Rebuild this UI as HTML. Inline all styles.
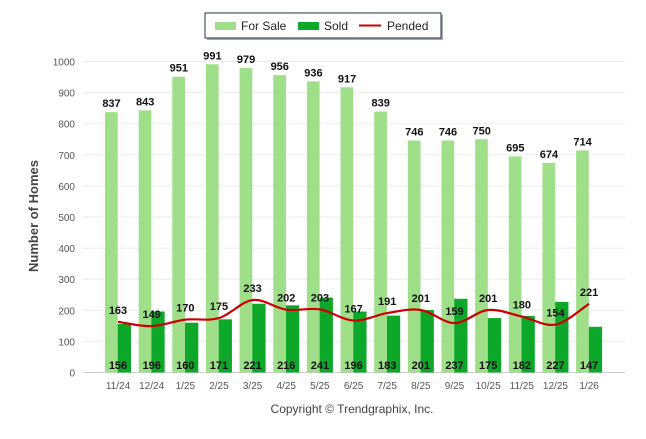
<!DOCTYPE html>
<html><head><meta charset="utf-8"><style>
body{margin:0;background:#fff;font-family:"Liberation Sans",sans-serif}
svg text{font-family:"Liberation Sans",sans-serif}
</style></head><body>
<svg width="646" height="434">
<g id="grid"></g><g id="bars"></g><g id="line"></g><g id="labels"></g>
<text x="38" y="216" transform="rotate(-90 38 216)" text-anchor="middle" font-size="13" font-weight="bold" fill="#444">Number of Homes</text>
<text x="352" y="413" text-anchor="middle" font-size="12" fill="#444">Copyright © Trendgraphix, Inc.</text>
<g>
<rect x="207" y="15" width="236" height="25" fill="#555" opacity="0.5"/>
<rect x="205" y="13" width="236" height="25" fill="#fff" stroke="#1f3050" stroke-width="1"/>
<rect x="215" y="22" width="21" height="8" fill="#a0df8a"/>
<text x="241" y="30" font-size="12" fill="#222">For Sale</text>
<rect x="298" y="22" width="21" height="8" fill="#0da82a"/>
<text x="324" y="30" font-size="12" fill="#222">Sold</text>
<line x1="359" y1="25.5" x2="381" y2="25.5" stroke="#cc0000" stroke-width="2"/>
<text x="387" y="30" font-size="12" fill="#222">Pended</text>
</g>
</svg>
<script>
const categories=["11/24","12/24","1/25","2/25","3/25","4/25","5/25","6/25","7/25","8/25","9/25","10/25","11/25","12/25","1/26"];
const forSale=[837,843,951,991,979,956,936,917,839,746,746,750,695,674,714];
const sold=[156,196,160,171,221,216,241,196,183,201,237,175,182,227,147];
const pended=[163,149,170,175,233,202,203,167,191,201,159,201,180,154,221];
const yTicks=[0,100,200,300,400,500,600,700,800,900,1000];
const NS="http://www.w3.org/2000/svg";
const y=v=>372.5-v*0.311;
const x=i=>118+i*33.65;
function mk(t,a,p){const e=document.createElementNS(NS,t);for(const k in a)e.setAttribute(k,a[k]);document.getElementById(p).appendChild(e);return e;}
yTicks.forEach(v=>{
 const g=mk("line",{x1:83,x2:625,y1:y(v),y2:y(v),stroke:v?"#ebebeb":"#ccc"},"grid");
 
 
 const t=mk("text",{x:75,y:y(v)+4,"text-anchor":"end","font-size":"10",fill:"#555"},"grid");t.textContent=v;
 
 
});
categories.forEach((c,i)=>{
 const t=mk("text",{x:x(i),y:389,"text-anchor":"middle","font-size":"10",fill:"#555"},"grid");t.textContent=c;
 
 
 const b=mk("rect",{x:x(i)-13,y:y(forSale[i]),width:12.7,height:y(0)-y(forSale[i]),fill:"#a0df8a"},"bars");
 
 
 const s=mk("rect",{x:x(i)-0.3,y:y(sold[i]),width:13.3,height:y(0)-y(sold[i]),fill:"#0da82a"},"bars");
 
 
 const l1=mk("text",{x:x(i)-6.5,y:y(forSale[i])-5,"text-anchor":"middle","font-size":"11","font-weight":"bold",fill:"#111"},"labels");l1.textContent=forSale[i];
 
 
 const l2=mk("text",{x:x(i),y:369,"text-anchor":"middle","font-size":"11","font-weight":"bold",fill:"#111"},"labels");l2.textContent=sold[i];
 
 
 const l3=mk("text",{x:x(i),y:y(pended[i])-8,"text-anchor":"middle","font-size":"11","font-weight":"bold",fill:"#111"},"labels");l3.textContent=pended[i];
 
 
});
const pts=pended.map((v,i)=>[x(i),y(v)]);
let d="M"+pts[0][0]+","+pts[0][1];
for(let i=0;i<pts.length-1;i++){
 const p0=pts[Math.max(0,i-1)],p1=pts[i],p2=pts[i+1],p3=pts[Math.min(pts.length-1,i+2)];
 const c1=[p1[0]+(p2[0]-p0[0])/6,p1[1]+(p2[1]-p0[1])/6],c2=[p2[0]-(p3[0]-p1[0])/6,p2[1]-(p3[1]-p1[1])/6];
 d+=` C${c1[0]},${c1[1]} ${c2[0]},${c2[1]} ${p2[0]},${p2[1]}`;
}
const pl=mk("path",{d:d,fill:"none",stroke:"#cc0000","stroke-width":"2.2"},"line");


</script>
</body></html>
